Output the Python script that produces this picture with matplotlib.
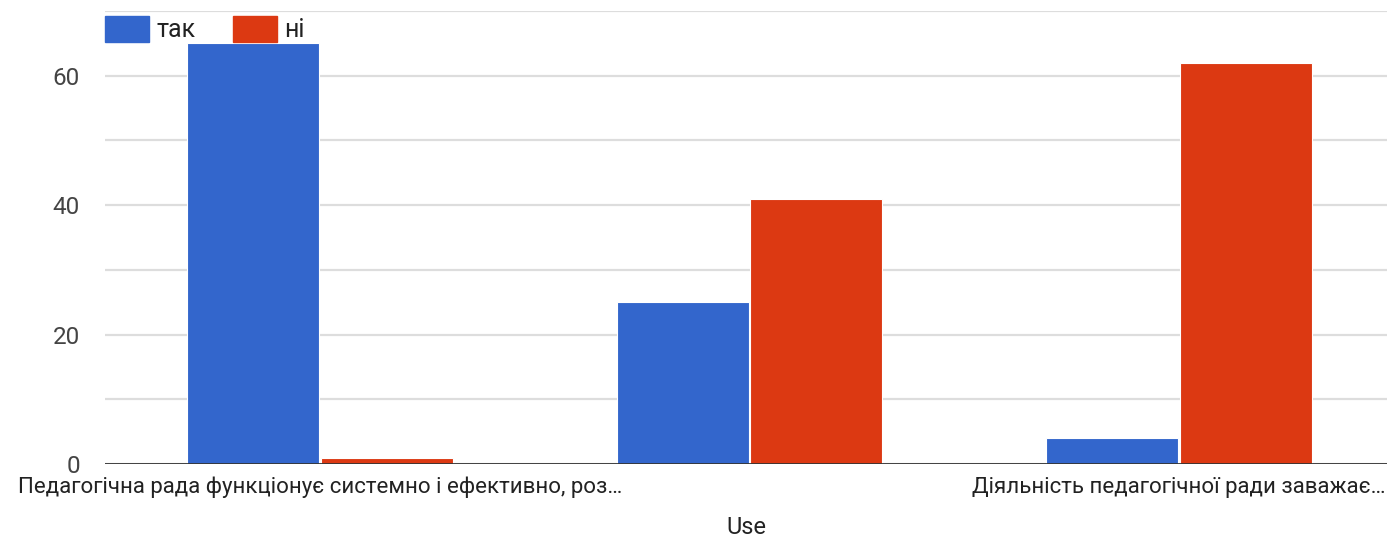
import numpy as np
import matplotlib.pyplot as plt

# дані
categories = ["Педагогічна рада функціонує системно і ефективно, роз…",
              "",
              "Діяльність педагогічної ради заважає…"]
tak = [65, 25, 4]
ni = [1, 41, 62]
series_names = ["так", "ні"]
colors = ["#3366CC", "#DC3912"]

plt.rcParams['font.family'] = ['Roboto', 'DejaVu Sans']

fig = plt.figure(figsize=(13.87, 5.41), dpi=100)
W, H = 1387, 541
ax = fig.add_axes([105 / W, 1 - 464 / H, (1387 - 105) / W, (464 - 11) / H])

x = np.arange(len(categories))
w = 0.307
ax.bar(x - w / 2 - 0.002, tak, width=w, color=colors[0], edgecolor='white', linewidth=0.8, zorder=3)
ax.bar(x + w / 2 + 0.002, ni, width=w, color=colors[1], edgecolor='white', linewidth=0.8, zorder=3)

ax.set_xlim(-0.5, 2.484)
ax.set_ylim(0, 70)
ax.set_yticks([0, 20, 40, 60])
ax.set_yticks([10, 30, 50, 70], minor=True)
ax.grid(axis='y', which='both', color='#dddddd', linewidth=1.6, zorder=0)
ax.axhline(0, color='#333333', linewidth=2, zorder=4)

for s in ax.spines.values():
    s.set_visible(False)
ax.tick_params(axis='y', which='both', length=0, pad=18, labelsize=17.5, labelcolor='#444444')
ax.set_xticks(x)
ax.set_xticklabels(categories, fontsize=16, color='#222222')
ax.tick_params(axis='x', length=0, pad=9)
ax.set_xlabel("Use", fontsize=17, color='#222222', labelpad=13)

# легенда
fig.legend([plt.Rectangle((0, 0), 1, 1, color=c) for c in colors], series_names,
           loc='upper left', bbox_to_anchor=(105 / W, 1 - 16 / H), ncol=2, frameon=False,
           borderpad=0, borderaxespad=0, fontsize=18, handlelength=1.76, handleheight=1.2,
           handletextpad=0.3, columnspacing=1.5, labelcolor='#222222')

fig.savefig("out.png", dpi=100)
